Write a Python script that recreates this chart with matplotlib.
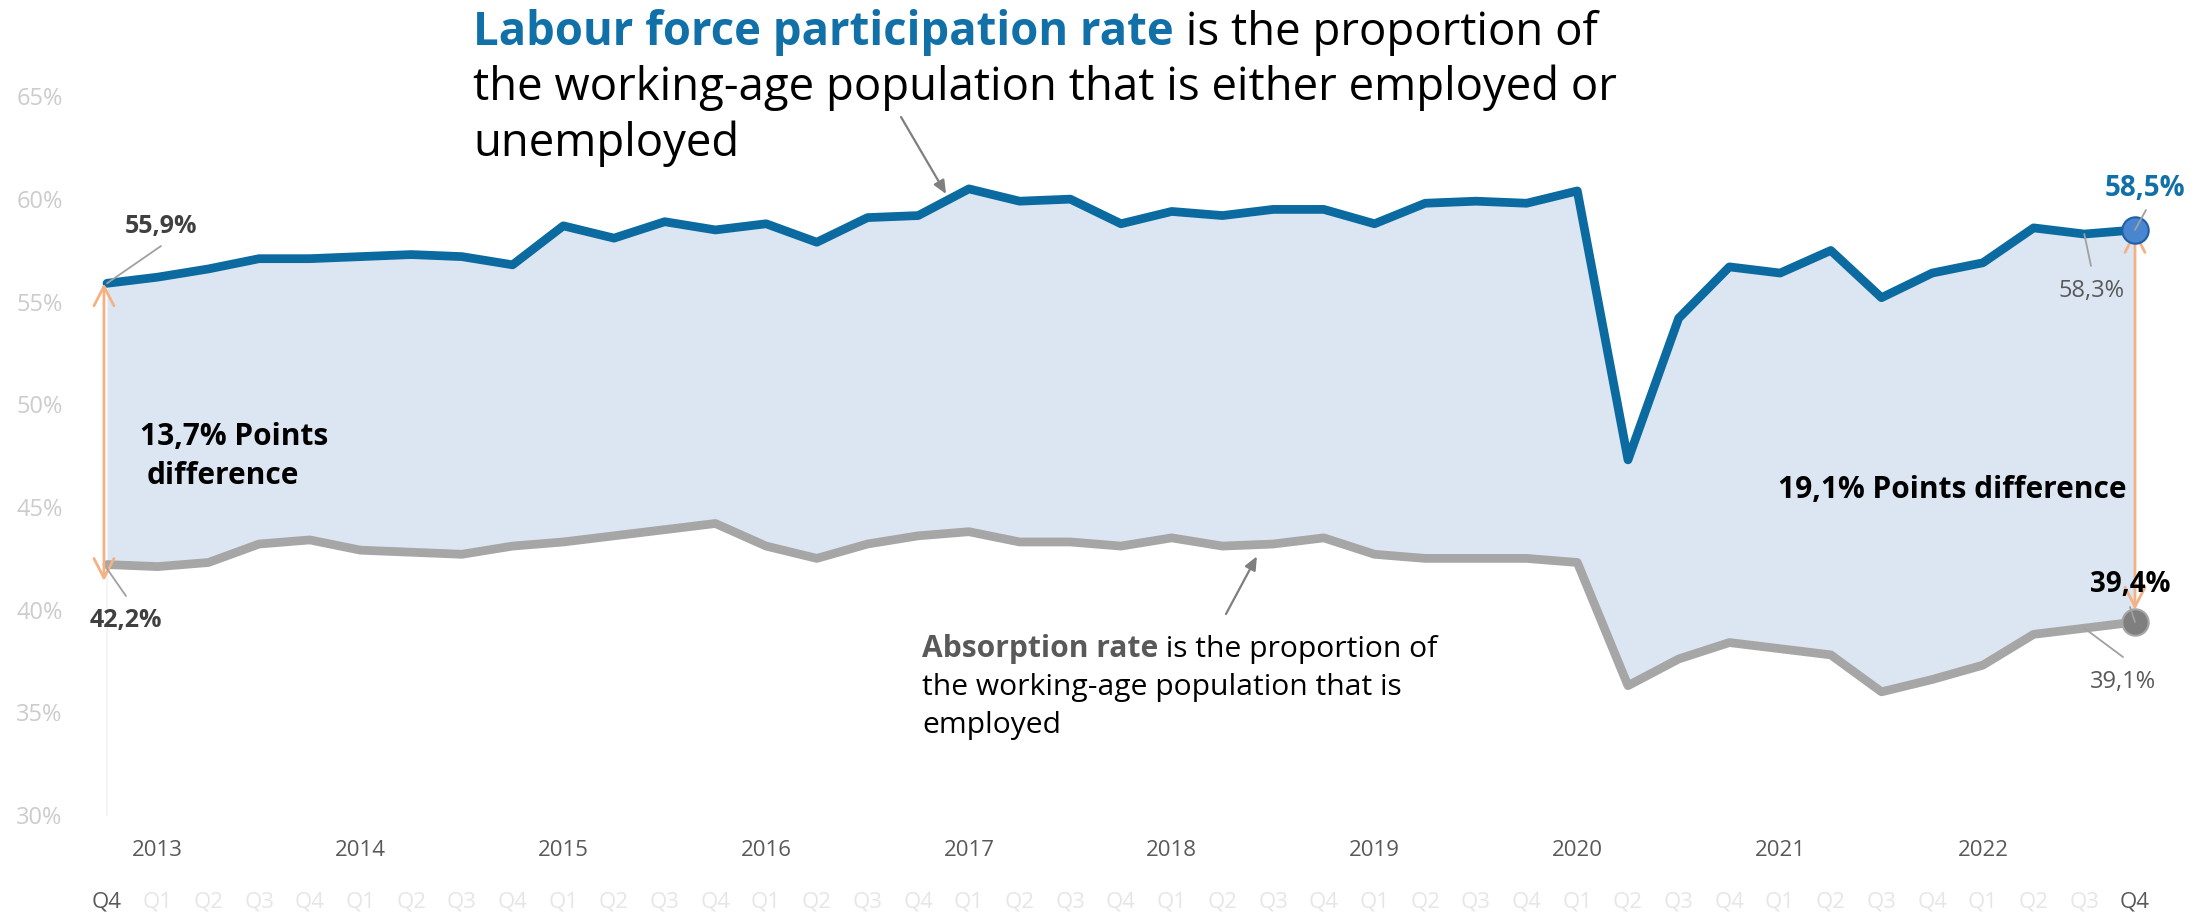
import matplotlib
matplotlib.use('Agg')
import matplotlib.pyplot as plt
from matplotlib.transforms import blended_transform_factory
import numpy as np

# ---------------- data ----------------
quarters = ['Q4'] + ['Q1', 'Q2', 'Q3', 'Q4'] * 10
years = ['2013', '2014', '2015', '2016', '2017', '2018', '2019', '2020', '2021', '2022']
lfpr = [55.9, 56.2, 56.6, 57.1, 57.1, 57.2, 57.3, 57.2, 56.8, 58.7,
        58.1, 58.9, 58.5, 58.8, 57.9, 59.1, 59.2, 60.5, 59.9, 60.0,
        58.8, 59.4, 59.2, 59.5, 59.5, 58.8, 59.8, 59.9, 59.8, 60.4,
        47.3, 54.2, 56.7, 56.4, 57.5, 55.2, 56.4, 56.9, 58.6, 58.3, 58.5]
absorption = [42.2, 42.1, 42.3, 43.2, 43.4, 42.9, 42.8, 42.7, 43.1, 43.3,
              43.6, 43.9, 44.2, 43.1, 42.5, 43.2, 43.6, 43.8, 43.3, 43.3,
              43.1, 43.5, 43.1, 43.2, 43.5, 42.7, 42.5, 42.5, 42.5, 42.3,
              36.3, 37.6, 38.4, 38.1, 37.8, 36.0, 36.6, 37.3, 38.8, 39.1, 39.4]
yticks = [30, 35, 40, 45, 50, 55, 60, 65]

# ---------------- style ----------------
FONT = 'Open Sans'
plt.rcParams['font.family'] = [FONT, 'DejaVu Sans']
BLUE = '#0B6BA1'
TITLE_BLUE = '#1170A8'
GRAY_LINE = '#A6A6A6'
FILL = '#DCE6F2'
ORANGE = '#F4B183'
DARK = '#404040'
MID = '#595959'
LEADER = '#A0A0A0'

W, H = 2209, 915
fig = plt.figure(figsize=(W / 100, H / 100), dpi=100)


def fx(x):
    return x / W


def fy(y):
    return 1 - y / H


x0, x1 = 107, 2135
ytop, ybot = 96.5, 815
ax = fig.add_axes([fx(x0), fy(ybot), (x1 - x0) / W, (ybot - ytop) / H])
x = np.arange(len(lfpr))
ax.set_xlim(0, len(lfpr) - 1)
ax.set_ylim(30, 65)
for s in ax.spines.values():
    s.set_visible(False)
ax.set_xticks([])
ax.set_yticks(yticks)
ax.set_yticklabels([f'{v}%' for v in yticks], color='#CCCCCC', fontsize=17)
ax.tick_params(axis='y', length=0, pad=32)

# faint vertical baseline at first category
ax.plot([0, 0], [30, absorption[0]], color='#F2F2F2', lw=1.2, zorder=1, clip_on=False)

ax.fill_between(x, absorption, lfpr, color=FILL, lw=0, zorder=1)
ax.plot(x, lfpr, color=BLUE, lw=6.3, solid_joinstyle='round', solid_capstyle='round', zorder=4, clip_on=False)
ax.plot(x, absorption, color=GRAY_LINE, lw=6.3, solid_joinstyle='round', solid_capstyle='round', zorder=3, clip_on=False)

# orange difference arrows
ax.annotate('', xy=(-0.06, lfpr[0]), xytext=(-0.06, absorption[0] - 0.8),
            arrowprops=dict(arrowstyle='<->,head_length=0.7,head_width=0.36', color=ORANGE, lw=2,
                            shrinkA=0, shrinkB=0, mutation_scale=20), zorder=5, annotation_clip=False)
ax.annotate('', xy=(x[-1], lfpr[-1]), xytext=(x[-1], absorption[-1] + 0.6),
            arrowprops=dict(arrowstyle='<->,head_length=0.7,head_width=0.36', color=ORANGE, lw=2,
                            shrinkA=0, shrinkB=0, mutation_scale=20), zorder=2, annotation_clip=False)

# end markers
ax.plot([x[-1]], [lfpr[-1]], 'o', ms=19, mfc='#4A86D0', mec='#1F5FA8', mew=1.5, zorder=6, clip_on=False)
ax.plot([x[-1]], [absorption[-1]], 'o', ms=19, mfc='#7F7F7F', mec='#A6A6A6', mew=1.5, zorder=6, clip_on=False)


def leader(xy, end_px, z=7):
    ax.annotate('', xy=xy, xytext=(fx(end_px[0]), fy(end_px[1])), textcoords='figure fraction',
                xycoords='data',
                arrowprops=dict(arrowstyle='-', color=LEADER, lw=1.3, shrinkA=0, shrinkB=0),
                zorder=z, annotation_clip=False)


leader((0, lfpr[0]), (161, 246))
leader((0, absorption[0] - 0.2), (126, 596))
leader((x[-2], lfpr[-2]), (2091, 266))
leader((x[-2], absorption[-2]), (2123, 657))
leader((x[-1], lfpr[-1]), (2146, 210))
leader((x[-1], absorption[-1]), (2130, 607))

# value labels
fig.text(fx(161), fy(227), '55,9%', fontsize=18, fontweight='bold', color=DARK, ha='center', va='center')
fig.text(fx(126), fy(620), '42,2%', fontsize=18, fontweight='bold', color=DARK, ha='center', va='center')
fig.text(fx(2091), fy(291), '58,3%', fontsize=17, color=MID, ha='center', va='center')
fig.text(fx(2123), fy(682), '39,1%', fontsize=17, color=MID, ha='center', va='center')
fig.text(fx(2145), fy(188), '58,5%', fontsize=20, fontweight='bold', color=TITLE_BLUE, ha='center', va='center')
fig.text(fx(2130), fy(585), '39,4%', fontsize=20, fontweight='bold', color='black', ha='center', va='center')

# difference labels
fig.text(fx(140), fy(437), '13,7% Points', fontsize=21.5, fontweight='bold', color='black', ha='left', va='center')
fig.text(fx(147), fy(476), 'difference', fontsize=21.5, fontweight='bold', color='black', ha='left', va='center')
fig.text(fx(2126), fy(490), '19,1% Points difference', fontsize=21.5, fontweight='bold', color='black',
         ha='right', va='center')

# x axis labels
trans = blended_transform_factory(ax.transData, fig.transFigure)
for i, q in enumerate(quarters):
    c = MID if i in (0, len(quarters) - 1) else '#E6E6E6'
    ax.text(i, fy(902), q, transform=trans, ha='center', va='center', fontsize=16, color=c, clip_on=False)
for k, yr in enumerate(years):
    ax.text(1 + 4 * k, fy(850), yr, transform=trans, ha='center', va='center', fontsize=16, color=MID,
            clip_on=False)

# title annotation
fig.canvas.draw()
r = fig.canvas.get_renderer()
TS = 32.8
t1 = fig.text(fx(473), fy(45), 'Labour force participation rate', fontsize=TS, fontweight='bold',
              color=TITLE_BLUE, va='baseline', ha='left')
bb = t1.get_window_extent(r)
fig.text(bb.x1 / W, fy(45), ' is the proportion of', fontsize=TS, color='black', va='baseline', ha='left')
fig.text(fx(473), fy(100), 'the working-age population that is either employed or', fontsize=TS,
         color='black', va='baseline', ha='left')
fig.text(fx(473), fy(156), 'unemployed', fontsize=TS, color='black', va='baseline', ha='left')

ax.annotate('', xy=(16.55, 60.25), xytext=(fx(901), fy(117)), textcoords='figure fraction',
            arrowprops=dict(arrowstyle='-|>,head_length=0.5,head_width=0.22', color='#7F7F7F', lw=1.6,
                            shrinkA=0, shrinkB=0, mutation_scale=16), zorder=8, annotation_clip=False)

# absorption annotation
AS = 21.6
a1 = fig.text(fx(922), fy(657), 'Absorption rate', fontsize=AS, fontweight='bold', color=MID,
              va='baseline', ha='left')
bb2 = a1.get_window_extent(r)
fig.text(bb2.x1 / W, fy(657), ' is the proportion of', fontsize=AS, color='black', va='baseline', ha='left')
fig.text(fx(922), fy(695), 'the working-age population that is', fontsize=AS, color='black',
         va='baseline', ha='left')
fig.text(fx(922), fy(733), 'employed', fontsize=AS, color='black', va='baseline', ha='left')

ax.annotate('', xy=(22.68, 42.6), xytext=(fx(1226), fy(614)), textcoords='figure fraction',
            arrowprops=dict(arrowstyle='-|>,head_length=0.5,head_width=0.22', color='#7F7F7F', lw=1.6,
                            shrinkA=0, shrinkB=0, mutation_scale=16), zorder=8, annotation_clip=False)

fig.savefig('out.png', dpi=100, facecolor='white')
